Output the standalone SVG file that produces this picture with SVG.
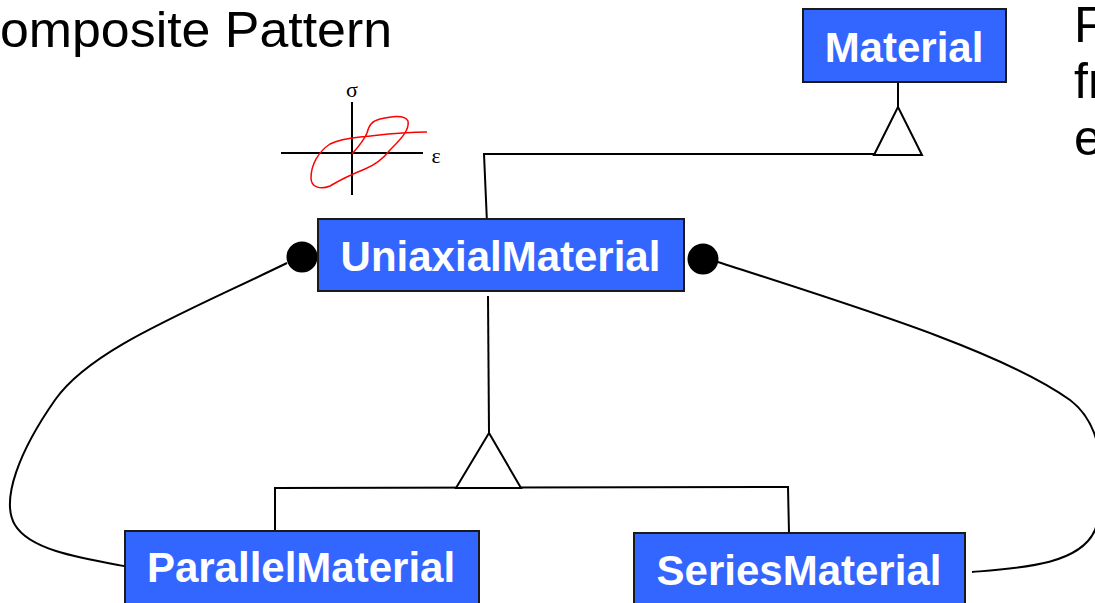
<svg xmlns="http://www.w3.org/2000/svg" width="1095" height="603" viewBox="0 0 1095 603">
<style>
.box{fill:#3366FF;stroke:#1a1a1a;stroke-width:2}
.lbl{fill:#fff;font-family:"Liberation Sans",Arial,sans-serif;font-weight:bold;font-size:42px;text-anchor:middle}
.ln{fill:none;stroke:#000;stroke-width:2}
.tri{fill:#fff;stroke:#000;stroke-width:2;stroke-linejoin:miter}
.big{font-family:"Liberation Sans",Arial,sans-serif;font-size:50px;fill:#000}
.greek{font-family:"Liberation Serif","Times New Roman",serif;font-size:22px;fill:#000;text-anchor:middle}
</style>
<rect width="1095" height="603" fill="#fff"/>
<text class="big" x="0" y="47" font-size="51" textLength="392" lengthAdjust="spacingAndGlyphs">omposite Pattern</text>
<g class="big">
<text x="1074" y="42">F</text>
<text x="1074" y="98">fr</text>
<text x="1074" y="155">e</text>
</g>
<g id="stress-strain">
<line class="ln" x1="281" y1="153" x2="423" y2="153" stroke-width="1.5"/>
<line class="ln" x1="352" y1="102" x2="352" y2="195" stroke-width="1.5"/>
<text class="greek" x="352" y="97">σ</text>
<text class="greek" x="436" y="163">ε</text>
<path d="M352,154 C360,145 365,138 367,133 C369,125 372,121 380,119 C392,116 405,115 408,121 C410,130 400,140 390,150 C382,160 375,165 365,169 C355,173 340,180 330,186 C320,190 311,187 311,178 C311,165 318,152 330,144 C340,139 350,138 360,137 C380,135 400,132 427,132" fill="none" stroke="#ff0000" stroke-width="1.5"/>
</g>
<g id="connectors">
<polyline class="ln" points="898,82 898,107"/>
<polyline class="ln" points="874,154 484,154 487,223"/>
<polygon class="tri" points="898,107 874,155 922,155"/>
<line class="ln" x1="488" y1="296" x2="489" y2="433"/>
<polyline class="ln" points="275,531 275,488 788,487 789,533"/>
<polygon class="tri" points="489,433 456,488 521,488"/>
<path class="ln" d="M287,263 C180,315 90,350 55,400 C20,450 0,500 15,525 C30,550 80,558 124,566"/>
<path class="ln" d="M718,262 C850,305 1000,350 1070,400 C1110,430 1105,500 1095,530 C1080,565 1020,568 972,572"/>
<circle cx="302" cy="257" r="15.5" fill="#000"/>
<circle cx="703" cy="259" r="15.5" fill="#000"/>
</g>
<g id="Material">
<rect class="box" x="803" y="9" width="203" height="73"/>
<text class="lbl" x="904" y="62">Material</text>
</g>
<g id="UniaxialMaterial">
<rect class="box" x="318" y="219" width="366" height="72"/>
<text class="lbl" x="500.5" y="271">UniaxialMaterial</text>
</g>
<g id="ParallelMaterial">
<rect class="box" x="125" y="531" width="354" height="80"/>
<text class="lbl" x="301" y="582">ParallelMaterial</text>
</g>
<g id="SeriesMaterial">
<rect class="box" x="634" y="533" width="331" height="80"/>
<text class="lbl" x="799" y="585">SeriesMaterial</text>
</g>
</svg>
